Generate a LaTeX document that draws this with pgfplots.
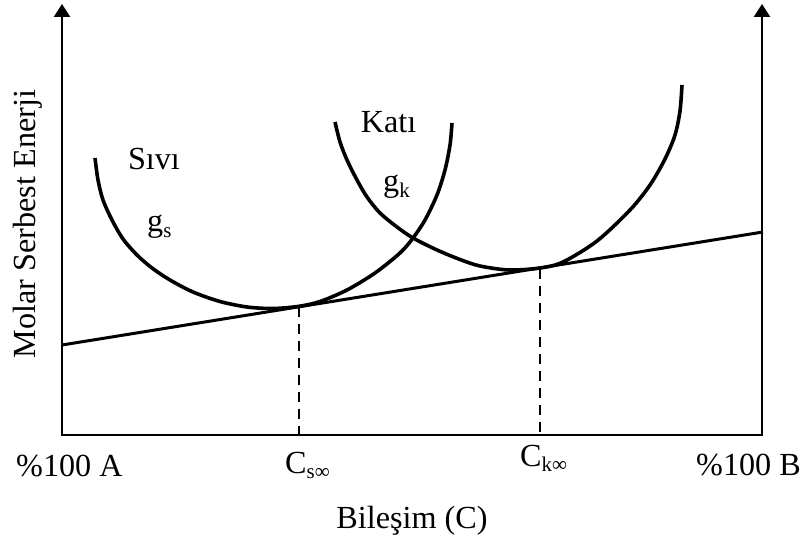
\documentclass[border=0pt]{standalone}
\usepackage{pgfplots}
\pgfplotsset{compat=1.18}
\usepackage{fontspec}
\setmainfont{Liberation Serif}
\usetikzlibrary{arrows.meta}
\newcommand{\bigtxt}{\fontsize{32.3}{37}\selectfont}
\newcommand{\sub}[1]{\raisebox{-0.17em}{\fontsize{21}{24}\selectfont #1}}
\begin{document}
\begin{tikzpicture}
\begin{axis}[hide axis, scale only axis, width=701bp, height=431bp,
  xmin=62, xmax=763, ymin=104, ymax=535, clip=false]
% axes
\addplot[black, line width=2.6bp, line join=miter, {Triangle[width=16bp,length=13bp]}-{Triangle[width=16bp,length=13bp]}]
  coordinates {(62,535) (62,104) (762,104) (762,535)};
% tangent line
\addplot[black, line width=3bp] coordinates {(62,194) (763,307)};
% liquid curve
\addplot[black, line width=3.6bp, smooth] coordinates {
(95,381) (98,359) (103,339) (112,319) (123,300) (137,284) (152,271) (170,259)
(193,247) (220,237.5) (247,232) (273,230.5) (299,232.7) (320,237.5) (347,249)
(375,266) (400,286) (413,301) (425,319) (437,344) (445,369) (450,394) (452,416)};
% solid curve
\addplot[black, line width=3.6bp, smooth] coordinates {
(335,417) (340,397) (347,379) (357,359) (367,342) (380,326) (397,312) (413,301)
(437,289) (460,279.5) (480,273) (509,269) (540,271) (563,277) (597,298)
(630,329) (650,354) (665,380) (675,404) (680,428) (682,454)};
% dashed lines
\addplot[black, line width=2bp, dash pattern=on 10bp off 7bp] coordinates {(299,232) (299,104)};
\addplot[black, line width=2bp, dash pattern=on 10bp off 7bp] coordinates {(540,270) (540,104)};
% labels
\node[anchor=base, inner sep=0pt] at (axis cs:154,369) {\bigtxt Sıvı};
\node[anchor=base west, inner sep=0pt] at (axis cs:147,307) {\bigtxt g\sub{s}};
\node[anchor=base, inner sep=0pt] at (axis cs:388.5,406) {\bigtxt Katı};
\node[anchor=base west, inner sep=0pt] at (axis cs:383,347) {\bigtxt g\sub{k}};
\node[anchor=base west, inner sep=0pt] at (axis cs:16,63) {\bigtxt \%100 A};
\node[anchor=base west, inner sep=0pt] at (axis cs:285,66) {\bigtxt C\sub{s∞}};
\node[anchor=base west, inner sep=0pt] at (axis cs:520,73) {\bigtxt C\sub{k∞}};
\node[anchor=base east, inner sep=0pt] at (axis cs:801,64) {\bigtxt \%100 B};
\node[anchor=base, inner sep=0pt] at (axis cs:412,11) {\bigtxt Bileşim (C)};
\node[anchor=base, inner sep=0pt, rotate=90] at (axis cs:35,315) {\bigtxt Molar Serbest Enerji};
\coordinate (BL) at (axis cs:0,0);
\coordinate (TR) at (axis cs:805,539);
\end{axis}
\pgfresetboundingbox
\path (BL) rectangle (TR);
\end{tikzpicture}
\end{document}
